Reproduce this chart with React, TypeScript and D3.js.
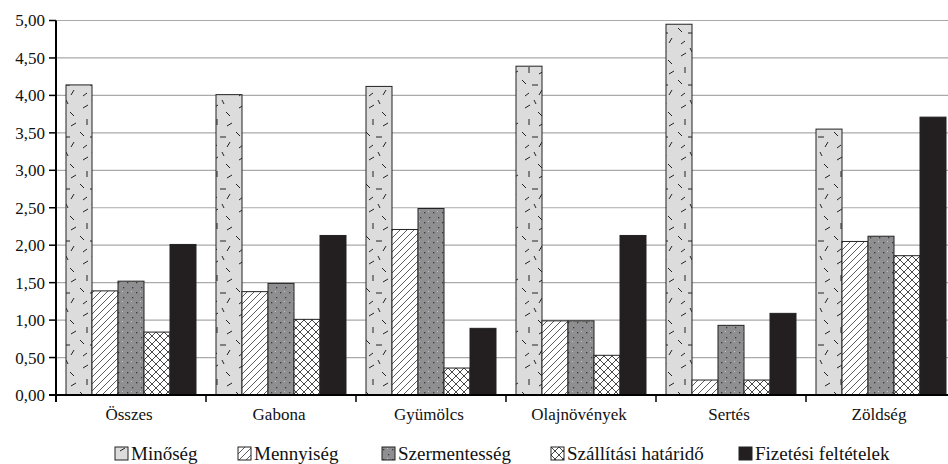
import React, { useRef, useEffect } from 'react';
import * as d3 from 'd3';

const categories = ['Összes', 'Gabona', 'Gyümölcs', 'Olajnövények', 'Sertés', 'Zöldség'];
const series = ['Minőség', 'Mennyiség', 'Szermentesség', 'Szállítási határidő', 'Fizetési feltételek'];

const minoseg = [4.14, 4.01, 4.12, 4.39, 4.95, 3.55];
const mennyiseg = [1.39, 1.38, 2.21, 0.99, 0.2, 2.05];
const szermentesseg = [1.52, 1.49, 2.49, 0.99, 0.93, 2.12];
const szallitas = [0.84, 1.01, 0.36, 0.53, 0.2, 1.86];
const fizetes = [2.01, 2.13, 0.89, 2.13, 1.09, 3.71];

const values = [minoseg, mennyiseg, szermentesseg, szallitas, fizetes];
const yTicks = [0, 0.5, 1, 1.5, 2, 2.5, 3, 3.5, 4, 4.5, 5];

const patternIds = ['pMin', 'pMenny', 'pSzerm', 'pSzall', 'pFiz'];
const legendX = [115, 238, 382, 551, 739];

const App: React.FC = () => {
  const ref = useRef<SVGSVGElement>(null);

  useEffect(() => {
    const svg = d3.select(ref.current);
    svg.selectAll('*').remove();
    const width = 948;
    const height = 464;
    const margin = { top: 20.5, left: 56, bottom: 395 };
    const font = '"Liberation Serif", "Times New Roman", Times, Tinos, "Nimbus Roman", "Noto Serif", "DejaVu Serif", FreeSerif, serif';

    svg.attr('width', width).attr('height', height);

    // patterns
    const defs = svg.append('defs');
    const pMin = defs.append('pattern').attr('id', 'pMin').attr('patternUnits', 'userSpaceOnUse')
      .attr('width', 26).attr('height', 52);
    pMin.append('rect').attr('width', 26).attr('height', 52).attr('fill', '#dcdcdd');
    const dashes = [
      [5, 4, 10, 1], [18, 8, 22, 12], [9, 15, 9, 21], [19, 22, 24, 19], [2, 28, 6, 32],
      [12, 33, 18, 33], [22, 38, 19, 43], [5, 44, 9, 41], [14, 48, 16, 52]
    ];
    pMin.selectAll('line').data(dashes).join('line')
      .attr('x1', d => d[0]).attr('y1', d => d[1]).attr('x2', d => d[2]).attr('y2', d => d[3])
      .attr('stroke', '#222').attr('stroke-width', 1);

    const pMenny = defs.append('pattern').attr('id', 'pMenny').attr('patternUnits', 'userSpaceOnUse')
      .attr('width', 7).attr('height', 7);
    pMenny.append('rect').attr('width', 7).attr('height', 7).attr('fill', '#fff');
    pMenny.append('path').attr('d', 'M-1,1 l2,-2 M0,7 l7,-7 M6,8 l2,-2')
      .attr('stroke', '#333').attr('stroke-width', 0.8);

    const pSzerm = defs.append('pattern').attr('id', 'pSzerm').attr('patternUnits', 'userSpaceOnUse')
      .attr('width', 9).attr('height', 10);
    pSzerm.append('rect').attr('width', 9).attr('height', 10).attr('fill', '#8f8f91');
    pSzerm.append('rect').attr('x', 1).attr('y', 2).attr('width', 1.3).attr('height', 1.3).attr('fill', '#3a3a3a');
    pSzerm.append('rect').attr('x', 6).attr('y', 7).attr('width', 1.3).attr('height', 1.3).attr('fill', '#3a3a3a');
    pSzerm.append('rect').attr('x', 5).attr('y', 1).attr('width', 1).attr('height', 1).attr('fill', '#c8c8c8');

    const pSzall = defs.append('pattern').attr('id', 'pSzall').attr('patternUnits', 'userSpaceOnUse')
      .attr('width', 8).attr('height', 8);
    pSzall.append('rect').attr('width', 8).attr('height', 8).attr('fill', '#fff');
    pSzall.append('path').attr('d', 'M0,0 L8,8 M8,0 L0,8')
      .attr('stroke', '#333').attr('stroke-width', 0.9);

    const pFiz = defs.append('pattern').attr('id', 'pFiz').attr('patternUnits', 'userSpaceOnUse')
      .attr('width', 4).attr('height', 4);
    pFiz.append('rect').attr('width', 4).attr('height', 4).attr('fill', '#231f20');

    const x = d3.scaleBand()
      .domain(categories)
      .range([margin.left, margin.left + 150 * categories.length]);

    const xSub = d3.scaleBand()
      .domain(series)
      .range([10, x.bandwidth() - 10]);

    const y = d3.scaleLinear()
      .domain([0, 5])
      .range([margin.bottom, margin.top]);

    // gridlines
    svg.append('g')
      .selectAll('line')
      .data(yTicks.filter(t => t > 0))
      .join('line')
      .attr('x1', margin.left).attr('x2', width)
      .attr('y1', d => y(d)).attr('y2', d => y(d))
      .attr('stroke', '#aaaaaa').attr('stroke-width', 1.2);

    // bars
    svg.append('g')
      .selectAll('g')
      .data(values)
      .join('g')
      .attr('fill', (d, i) => `url(#${patternIds[i]})`)
      .each(function (vals, si) {
        d3.select(this).selectAll('rect')
          .data(vals)
          .join('rect')
          .attr('x', (d, ci) => x(categories[ci])! + xSub(series[si])!)
          .attr('y', d => y(d))
          .attr('width', xSub.bandwidth())
          .attr('height', d => y(0) - y(d))
          .attr('stroke', '#222')
          .attr('stroke-width', 1);
      });

    // y axis
    const yAxis = svg.append('g');
    yAxis.append('line')
      .attr('x1', margin.left).attr('x2', margin.left)
      .attr('y1', margin.top).attr('y2', margin.bottom + 7)
      .attr('stroke', '#000').attr('stroke-width', 2);
    yAxis.selectAll('line.tick')
      .data(yTicks)
      .join('line')
      .attr('class', 'tick')
      .attr('x1', margin.left - 7).attr('x2', margin.left)
      .attr('y1', d => y(d)).attr('y2', d => y(d))
      .attr('stroke', '#000').attr('stroke-width', 1.5);
    yAxis.selectAll('text')
      .data(yTicks)
      .join('text')
      .attr('x', 45)
      .attr('y', d => y(d))
      .attr('dy', '0.35em')
      .attr('text-anchor', 'end')
      .style('font-family', font)
      .style('font-size', '17px')
      .attr('fill', '#111')
      .text(d => d3.format('.2f')(d).replace('.', ','));

    // x axis
    const xAxis = svg.append('g');
    xAxis.append('line')
      .attr('x1', margin.left - 7).attr('x2', width)
      .attr('y1', margin.bottom).attr('y2', margin.bottom)
      .attr('stroke', '#000').attr('stroke-width', 2);
    xAxis.selectAll('line.tick')
      .data(categories.slice(1))
      .join('line')
      .attr('class', 'tick')
      .attr('x1', d => x(d)!).attr('x2', d => x(d)!)
      .attr('y1', margin.bottom).attr('y2', margin.bottom + 7)
      .attr('stroke', '#000').attr('stroke-width', 1.5);
    xAxis.selectAll('text')
      .data(categories)
      .join('text')
      .attr('x', d => x(d)! + x.bandwidth() / 2 - 2)
      .attr('y', 420)
      .attr('text-anchor', 'middle')
      .style('font-family', font)
      .style('font-size', '17px')
      .attr('fill', '#111')
      .text(d => d);

    // legend
    const legend = svg.append('g')
      .selectAll('g')
      .data(series)
      .join('g')
      .attr('transform', (d, i) => `translate(${legendX[i]},447)`);
    legend.append('rect')
      .attr('width', 13).attr('height', 13)
      .attr('fill', (d, i) => `url(#${patternIds[i]})`)
      .attr('stroke', '#222').attr('stroke-width', 1);
    legend.append('text')
      .attr('x', 16)
      .attr('y', 13)
      .style('font-family', font)
      .style('font-size', '19px')
      .attr('fill', '#111')
      .text(d => d);
  }, []);

  return <svg ref={ref} style={{ display: 'block', position: 'absolute', left: 0, top: 0 }}></svg>;
};

export default App;
